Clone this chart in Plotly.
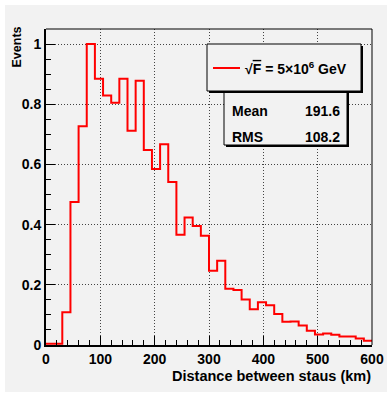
import plotly.graph_objects as go

# ---- data ----
bin_edges = [i * 15 for i in range(41)]  # 0..600 km, 15 km bins
counts = [0.004, 0.004, 0.109, 0.475, 0.727, 1.000, 0.885, 0.829, 0.805, 0.885,
          0.712, 0.878, 0.648, 0.585, 0.667, 0.542, 0.366, 0.424, 0.395, 0.363,
          0.247, 0.280, 0.187, 0.183, 0.151, 0.119, 0.142, 0.132, 0.103, 0.077,
          0.078, 0.065, 0.047, 0.035, 0.038, 0.034, 0.028, 0.028, 0.022, 0.014]
x_ticks = [0, 100, 200, 300, 400, 500, 600]
y_ticks = [0, 0.2, 0.4, 0.6, 0.8, 1.0]
legend_label = "√<span style='text-decoration:overline'>F</span> = 5×10<sup>6</sup> GeV"
stats = [("Mean", "191.6"), ("RMS", "108.2")]
x_title = "Distance between staus (km)"
y_title = "Events"

W, H = 387, 397
L, R, T, B = 46, 15, 29, 52
PW, PH = W - L - R, H - T - B
GRAY = "#f2f2f2"
FONT = "Liberation Sans, Arial, Helvetica, sans-serif"


def px(x):
    return (x - L) / PW


def py(y):
    return (H - B - y) / PH


xs = bin_edges
ys = counts + [counts[-1]]

fig = go.Figure()
fig.add_trace(go.Scatter(x=xs, y=ys, mode="lines", line=dict(color="#ff0000", width=2, shape="hv"),
                         showlegend=False, hoverinfo="skip"))

shapes = []
# canvas gray area
shapes.append(dict(type="rect", xref="paper", yref="paper", x0=px(5), x1=px(W + 2), y0=py(5), y1=py(392),
                   fillcolor=GRAY, line=dict(width=0), layer="below"))
# frame top/right
shapes.append(dict(type="line", xref="paper", yref="paper", x0=0, x1=1, y0=1, y1=1,
                   line=dict(color="#000", width=1)))
shapes.append(dict(type="line", xref="paper", yref="paper", x0=1, x1=1, y0=0, y1=1,
                   line=dict(color="#000", width=1)))


def box(x0, y0, x1, y1):
    # shadow
    shapes.append(dict(type="rect", xref="paper", yref="paper", x0=px(x0 + 2), x1=px(x1 + 2),
                       y0=py(y0 + 2), y1=py(y1 + 2), fillcolor="#000", line=dict(width=0)))
    shapes.append(dict(type="rect", xref="paper", yref="paper", x0=px(x0), x1=px(x1),
                       y0=py(y0), y1=py(y1), fillcolor=GRAY, line=dict(color="#000", width=1)))


box(224, 91, 347, 145)
box(207, 44, 361, 91)
# legend sample line
shapes.append(dict(type="line", xref="paper", yref="paper", x0=px(213), x1=px(240), y0=py(68), y1=py(68),
                   line=dict(color="#ff0000", width=2)))

ann = []
ann.append(dict(text="<b>" + legend_label + "</b>", xref="paper", yref="paper", x=px(243), y=py(68),
                xanchor="left", yanchor="middle", showarrow=False, font=dict(size=14, color="#000", family=FONT)))
for i, (k, v) in enumerate(stats):
    yy = 111 + i * 25.5
    ann.append(dict(text="<b>" + k + "</b>", xref="paper", yref="paper", x=px(230), y=py(yy),
                    xanchor="left", yanchor="middle", showarrow=False, font=dict(size=14, color="#000", family=FONT)))
    ann.append(dict(text="<b>" + v + "</b>", xref="paper", yref="paper", x=px(342), y=py(yy),
                    xanchor="right", yanchor="middle", showarrow=False, font=dict(size=14, color="#000", family=FONT)))
ann.append(dict(text="<b>" + x_title + "</b>", xref="paper", yref="paper", x=px(373), y=py(376),
                xanchor="right", yanchor="middle", showarrow=False, font=dict(size=14.5, color="#000", family=FONT)))
ann.append(dict(text="<b>" + y_title + "</b>", xref="paper", yref="paper", x=px(17), y=py(47.5),
                xanchor="center", yanchor="middle", textangle=-90, showarrow=False,
                font=dict(size=12.5, color="#000", family=FONT)))

fig.update_layout(
    width=W, height=H,
    margin=dict(l=L, r=R, t=T, b=B, pad=0, autoexpand=False),
    paper_bgcolor="white", plot_bgcolor=GRAY,
    shapes=shapes, annotations=ann,
    font=dict(family=FONT, color="#000"),
)
fig.update_xaxes(range=[0, 600], tickvals=x_ticks, ticktext=[str(v) for v in x_ticks], automargin=False,
                 ticks="inside", ticklen=9, tickwidth=1, tickcolor="#000",
                 showline=True, linecolor="#000", linewidth=2,
                 showgrid=True, gridcolor="#444", gridwidth=1, griddash="1px,2px",
                 zeroline=False, tickfont=dict(size=14, weight="bold", family=FONT, color="#000"),
                 minor=dict(ticks="inside", ticklen=5, dtick=20, tick0=0, tickcolor="#000", showgrid=False))
fig.update_yaxes(range=[0, 1.05], tickvals=y_ticks, ticktext=["0", "0.2", "0.4", "0.6", "0.8", "1"], automargin=False,
                 ticks="inside", ticklen=9, tickwidth=1, tickcolor="#000",
                 showline=True, linecolor="#000", linewidth=2,
                 showgrid=True, gridcolor="#444", gridwidth=1, griddash="1px,2px",
                 zeroline=False, tickfont=dict(size=14, weight="bold", family=FONT, color="#000"),
                 minor=dict(ticks="inside", ticklen=5, dtick=0.05, tick0=0, tickcolor="#000", showgrid=False))

fig.write_html("out.html")
